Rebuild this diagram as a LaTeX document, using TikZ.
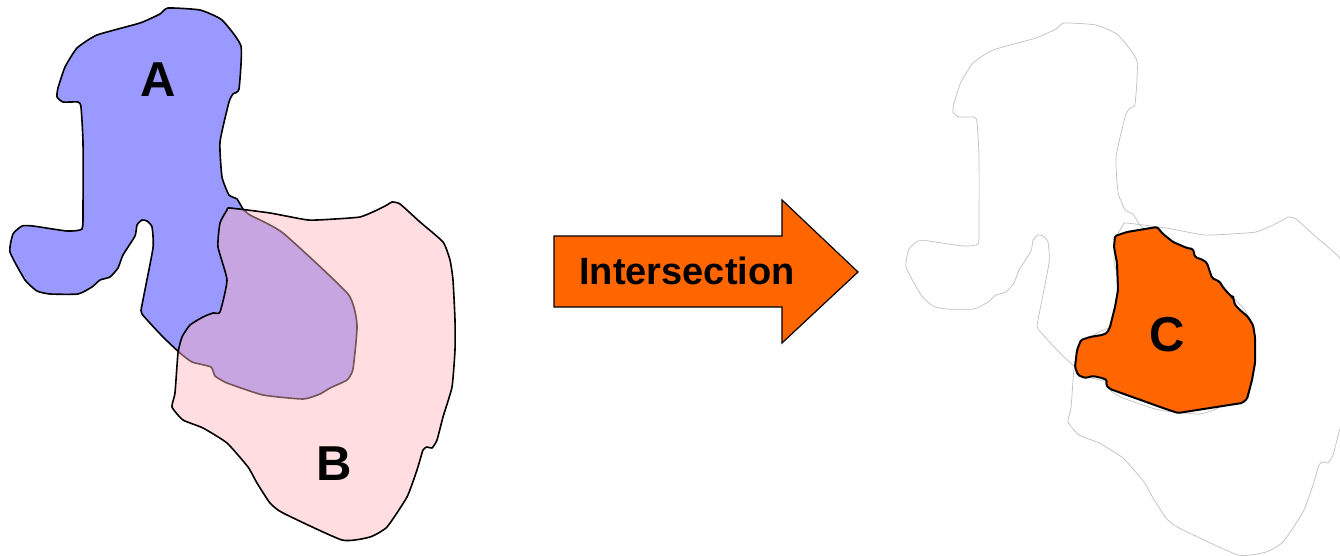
\documentclass[tikz,border=0pt]{standalone}
\usepackage{fontspec}
\setmainfont{Liberation Sans}
\definecolor{ablue}{HTML}{9999FF}
\definecolor{bpink}{RGB}{255,181,188}
\definecolor{corange}{HTML}{FF6600}
\definecolor{ghost}{RGB}{190,190,190}
\newcommand\shapeA{plot[smooth cycle,tension=0.3] coordinates {(168,8) (200,10) (222,20) (241,46) (239,89) (233,94) (229,102) (220,142) (222,177) (229,195) (237,199) (243,209) (250,215) (283,233) (348,294) (357,325) (353,369) (347,380) (330,388) (320,394) (303,399) (263,395) (227,383) (215,376) (211,367) (192,362) (180,353) (163,337) (142,314) (142,305) (153,248) (152,227) (147,221) (142,220) (137,225) (135,236) (123,255) (118,268) (110,277) (100,280) (92,287) (78,294) (50,294) (37,291) (25,280) (10,252) (13,234) (22,226) (33,226) (67,231) (82,229) (83,209) (83,142) (81,107) (78,102) (63,102) (57,97) (58,88) (65,67) (77,48) (97,35) (140,23) (160,14)}}
\newcommand\shapeB{plot[smooth cycle,tension=0.3] coordinates {(230,208) (270,213) (308,220) (335,219) (360,217) (375,211) (387,205) (392,202) (400,204) (420,222) (443,242) (450,260) (453,280) (455,320) (455,350) (452,387) (443,417) (437,440) (432,448) (427,447) (423,450) (417,470) (407,497) (387,527) (370,537) (342,540) (283,513) (270,503) (257,483) (248,467) (227,443) (203,428) (183,420) (172,407) (175,393) (178,353) (182,337) (190,325) (203,317) (213,313) (220,312) (227,280) (218,247) (220,223) (227,210)}}
\tikzset{
  outlinebox/.style={line width=1.6pt, line join=round},
  ghostline/.style={draw=ghost, line width=0.7pt, line join=round},
  biglabel/.style={font=\fontsize{49}{49}\selectfont\bfseries, text=black, inner sep=0pt},
}
\begin{document}
\begin{tikzpicture}[x=1pt,y=-1pt]
\useasboundingbox (0,0) rectangle (1340,556);
% left: A and B
\draw[outlinebox, fill=ablue] \shapeA;
\draw[outlinebox, fill=bpink, fill opacity=0.46, draw opacity=1] \shapeB;
\node[biglabel] (labA) at (158,80) {A};
\node[biglabel] (labB) at (334,464) {B};
% arrow
\draw[fill=corange, line width=1.2pt, line join=miter]
  (554,236) -- (782,236) -- (782,200) -- (858,272) -- (782,343) -- (782,307) -- (554,307) -- cycle;
\node[font=\fontsize{38}{38}\selectfont\bfseries, inner sep=0pt] (labI) at (687,271) {Intersection};
% right: ghost outlines and C
\begin{scope}[shift={(896,15)}]
  \draw[ghostline] \shapeA;
  \draw[ghostline] \shapeB;
\end{scope}
\draw[fill=corange, line width=2pt, rounded corners=1.5pt, line join=round]
  (1115,236) -- (1127,232) -- (1157,227) -- (1163,234) -- (1173,242) -- (1187,248) -- (1193,249) -- (1195,257) -- (1203,260) -- (1207,263) -- (1212,278) -- (1220,282) -- (1222,286) -- (1227,292) -- (1232,297) -- (1233,297) -- (1235,305) -- (1240,310) -- (1248,317) -- (1253,325) -- (1255,337) -- (1255,363) -- (1252,380) -- (1247,399) -- (1242,403) -- (1178,413) -- (1163,408) -- (1110,389) -- (1106,385) -- (1107,380) -- (1102,378) -- (1093,376) -- (1085,378) -- (1078,375) -- (1075,367) -- (1077,350) -- (1081,340) -- (1090,337) -- (1102,335) -- (1107,333) -- (1110,327) -- (1115,307) -- (1118,290) -- (1117,263) -- (1114,247) -- cycle;
\node[biglabel] (labC) at (1167,335) {C};
\end{tikzpicture}
\end{document}
